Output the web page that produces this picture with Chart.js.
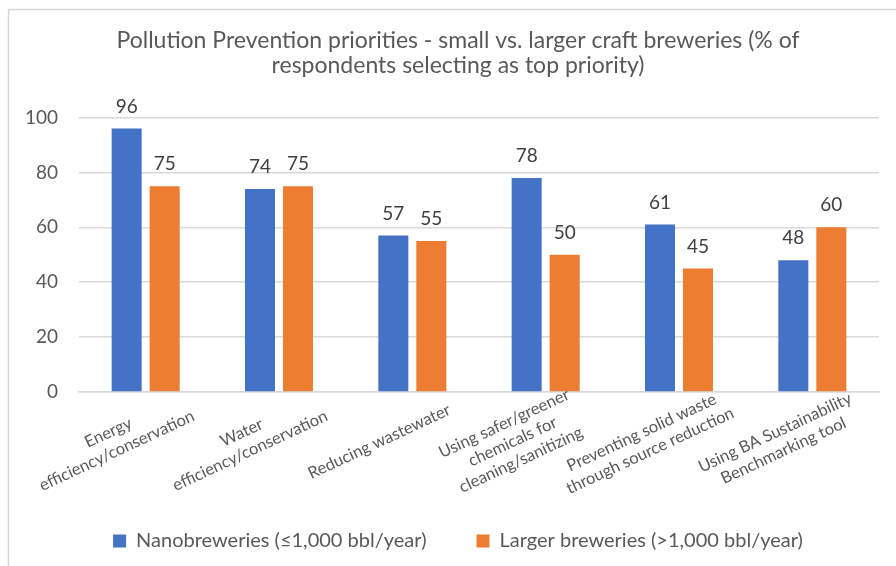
<!DOCTYPE html>
<html>
<head>
<meta charset="utf-8">
<script src="https://cdn.jsdelivr.net/npm/chart.js@4.4.0/dist/chart.umd.min.js"></script>
<style>
  html, body { margin: 0; padding: 0; background: #fff; }
  #chart-container { width: 896px; height: 566px; position: relative; }
</style>
</head>
<body>
<div id="chart-container"><canvas id="chart-canvas"></canvas></div>
<script>
// Survey results: share of respondents picking each item as top priority
const chartTitle = [
  'Pollution Prevention priorities - small vs. larger craft breweries (% of',
  'respondents selecting as top priority)'
];
const categories = [
  ['Energy', 'efficiency/conservation'],
  ['Water', 'efficiency/conservation'],
  ['Reducing wastewater'],
  ['Using safer/greener', 'chemicals for', 'cleaning/sanitizing'],
  ['Preventing solid waste', 'through source reduction'],
  ['Using BA Sustainability', 'Benchmarking tool']
];
const seriesNames = ['Nanobreweries (\u22641,000 bbl/year)', 'Larger breweries (>1,000 bbl/year)'];
const nanoValues = [96, 74, 57, 78, 61, 48];
const largerValues = [75, 75, 55, 50, 45, 60];
const yMin = 0;
const yMax = 100;
const yStep = 20;

const FONT = 'Lato, "Open Sans", sans-serif';
const TEXT_COLOR = '#595959';
const LABEL_COLOR = '#404040';
const GRID_COLOR = '#d9d9d9';
const BLUE = '#4472C4';
const ORANGE = '#ED7D31';
const TICK_FONT_SIZE = 19;

// y labels are mirrored (so they are not clipped to the narrow axis box)
// and pushed back to the left of the plot, right-aligned
const measureCtx = document.createElement('canvas').getContext('2d');
measureCtx.font = TICK_FONT_SIZE + 'px ' + FONT;
const widestTick = measureCtx.measureText(String(yMax)).width;

// White background plus the thin frame round the chart
const framePlugin = {
  id: 'frame',
  beforeDraw(chart) {
    const ctx = chart.ctx;
    ctx.save();
    ctx.fillStyle = '#fff';
    ctx.fillRect(0, 0, chart.width, chart.height);
    ctx.strokeStyle = GRID_COLOR;
    ctx.lineWidth = 1.5;
    ctx.strokeRect(8.5, 9.5, chart.width + 50, chart.height + 50);
    ctx.restore();
  }
};

// Value printed above every bar
const valueLabels = {
  id: 'valueLabels',
  afterDatasetsDraw(chart) {
    const ctx = chart.ctx;
    ctx.save();
    ctx.font = TICK_FONT_SIZE + 'px ' + FONT;
    ctx.fillStyle = LABEL_COLOR;
    ctx.textAlign = 'center';
    ctx.textBaseline = 'alphabetic';
    chart.data.datasets.forEach((ds, di) => {
      chart.getDatasetMeta(di).data.forEach((bar, i) => {
        ctx.fillText(String(ds.data[i]), bar.x, bar.y - 16);
      });
    });
    ctx.restore();
  }
};

// Slanted, centred multi-line category labels under the axis
const categoryLabels = {
  id: 'categoryLabels',
  afterDraw(chart) {
    const ctx = chart.ctx;
    const xScale = chart.scales.x;
    const angle = 25 * Math.PI / 180;
    const lineHeight = 20;
    const dx = Math.cos(angle), dy = -Math.sin(angle);
    const nx = Math.sin(angle), ny = Math.cos(angle);
    const along = -51, across = 31;
    ctx.save();
    ctx.font = '16.5px ' + FONT;
    ctx.fillStyle = TEXT_COLOR;
    ctx.textAlign = 'center';
    ctx.textBaseline = 'middle';
    chart.data.labels.forEach((lines, i) => {
      const x = xScale.getPixelForValue(i);
      const y = xScale.top;
      const cx = x + along * dx + across * nx;
      const cy = y + along * dy + across * ny;
      ctx.save();
      ctx.translate(cx, cy);
      ctx.rotate(-angle);
      lines.forEach((line, k) => {
        ctx.fillText(line, 0, (k - (lines.length - 1) / 2) * lineHeight);
      });
      ctx.restore();
    });
    ctx.restore();
  }
};

const ctx = document.getElementById('chart-canvas').getContext('2d');
new Chart(ctx, {
  type: 'bar',
  data: {
    labels: categories,
    datasets: [
      { label: seriesNames[0], data: nanoValues, backgroundColor: BLUE },
      { label: seriesNames[1], data: largerValues, backgroundColor: ORANGE }
    ]
  },
  options: {
    responsive: true,
    maintainAspectRatio: false,
    devicePixelRatio: 1,
    animation: false,
    layout: { padding: { left: 37, right: 17, top: 0, bottom: 5 } },
    datasets: {
      bar: { categoryPercentage: 0.57, barPercentage: 0.79, borderWidth: 0 }
    },
    plugins: {
      title: {
        display: true,
        text: chartTitle,
        color: TEXT_COLOR,
        font: { family: FONT, size: 23, weight: 'normal', lineHeight: 1.1 },
        padding: { top: 28, bottom: 39 }
      },
      legend: {
        position: 'bottom',
        labels: {
          boxWidth: 13,
          boxHeight: 13,
          padding: 50,
          color: TEXT_COLOR,
          font: { family: FONT, size: 20 }
        }
      },
      tooltip: { enabled: false }
    },
    scales: {
      x: {
        grid: { display: false },
        border: { display: true, color: GRID_COLOR, width: 1.5 },
        ticks: { display: false },
        afterFit(scale) { scale.height = 89; }
      },
      y: {
        min: yMin,
        max: yMax,
        ticks: {
          stepSize: yStep,
          color: TEXT_COLOR,
          mirror: true,
          crossAlign: 'far',
          padding: -(21 + widestTick),
          font: { family: FONT, size: TICK_FONT_SIZE }
        },
        grid: { color: GRID_COLOR, lineWidth: 1.5, drawTicks: false },
        border: { display: false },
        afterFit(scale) { scale.width = 42; }
      }
    }
  },
  plugins: [framePlugin, valueLabels, categoryLabels]
});
</script>
</body>
</html>
